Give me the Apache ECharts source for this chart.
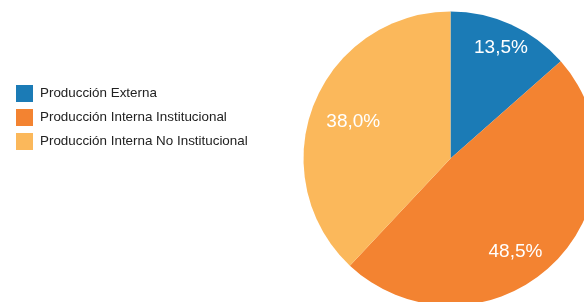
<!DOCTYPE html>
<html><head><meta charset="utf-8">
<script src="https://cdn.jsdelivr.net/npm/echarts@6/dist/echarts.min.js"></script>
<style>html,body{margin:0;padding:0;background:#fff}#c{width:584px;height:302px}</style>
</head><body><div id="c"></div>
<script>
const categories = ['Producción Externa', 'Producción Interna Institucional', 'Producción Interna No Institucional'];
const values = [13.5, 48.5, 38.0];
const colors = ['#1b7bb6', '#f38331', '#fbb85b'];
const labelOffsets = [[-1, 3], [-22, 3], [19, 9]];

const fmt = p => p.value.toFixed(1).replace('.', ',') + '%';
const chart = echarts.init(document.getElementById('c'), null, {renderer: 'canvas'});
chart.setOption({
  animation: false,
  color: colors,
  legend: {
    orient: 'vertical', left: 11, top: 80,
    icon: 'rect', itemWidth: 17, itemHeight: 17, itemGap: 7,
    textStyle: {fontFamily: 'Liberation Sans, Arial', fontSize: 13.4, color: '#222', padding: [0, 0, 0, 2]},
    data: categories
  },
  series: [{
    type: 'pie', center: [450.5, 158.5], radius: 147,
    startAngle: 90, clockwise: true,
    itemStyle: {borderWidth: 0},
    label: {show: false}, labelLine: {show: false},
    emphasis: {disabled: true},
    data: categories.map((n, i) => ({name: n, value: values[i]}))
  }, {
    type: 'pie', center: [450.5, 158.5], radius: [97, 147],
    startAngle: 90, clockwise: true, silent: true,
    itemStyle: {color: 'rgba(0,0,0,0)', borderWidth: 0},
    label: {show: true, position: 'inside', formatter: fmt, color: '#fff',
      fontFamily: 'Liberation Sans, Arial', fontSize: 19},
    labelLine: {show: false},
    emphasis: {disabled: true},
    data: categories.map((n, i) => ({name: n, value: values[i], label: {offset: labelOffsets[i]}}))
  }]
});
</script></body></html>
